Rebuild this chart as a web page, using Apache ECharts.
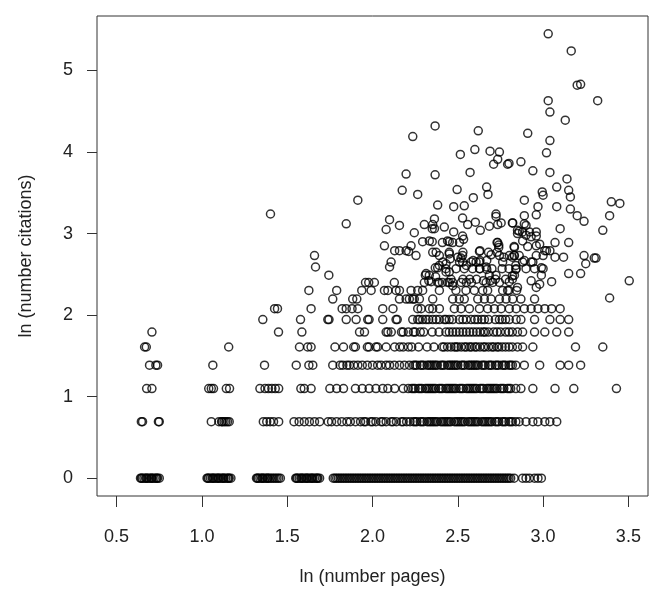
<!DOCTYPE html>
<html><head><meta charset="utf-8">
<script src="https://cdn.jsdelivr.net/npm/echarts@6/dist/echarts.min.js"></script>
<style>html,body{margin:0;padding:0;background:#fff}#c{width:652px;height:591px}</style>
</head><body><div id="c"></div>
<script>
// tick labels
const xTicks = [0.5, 1.0, 1.5, 2.0, 2.5, 3.0, 3.5];
const yTicks = [0, 1, 2, 3, 4, 5];

// discrete low levels of ln(citations): ln1 .. ln10
const rowLevels = [0, 0.693, 1.099, 1.386, 1.609, 1.792, 1.946, 2.079, 2.197, 2.303];

// x values (ln pages, jittered) of the points on each level
const row0 = [0.64,0.645,0.65,0.66,0.67,0.675,0.68,0.69,0.70,0.705,0.71,0.72,0.73,0.735,0.74,0.75,
  1.03,1.035,1.04,1.05,1.06,1.065,1.07,1.08,1.09,1.095,1.10,1.11,1.12,1.125,1.13,1.14,1.15,1.155,1.16,1.17,
  1.32,1.325,1.33,1.34,1.35,1.355,1.36,1.37,1.38,1.385,1.39,1.40,1.41,1.42,1.43,1.44,1.45,1.46,
  1.55,1.555,1.56,1.57,1.58,1.585,1.59,1.60,1.61,1.615,1.62,1.63,1.64,1.645,1.65,1.66,1.67,1.675,1.68,1.69,
  1.77,1.78,1.79,1.80,1.81,1.82,1.83,1.84,1.85,1.86,1.87,1.88,1.89,1.90,1.91,1.92,1.93,1.94,1.95,1.96,1.97,
  1.98,1.99,2.00,2.01,2.02,2.03,2.04,2.05,2.06,2.07,2.08,2.09,2.10,2.11,
  2.12,2.13,2.14,2.15,2.16,2.17,2.18,2.19,2.20,2.21,2.22,2.23,2.24,2.25,2.26,2.27,2.28,2.29,2.30,2.31,2.32,
  2.33,2.34,2.35,2.36,2.37,2.38,2.39,2.40,2.41,2.42,
  2.43,2.44,2.45,2.46,2.47,2.48,2.49,2.50,2.51,2.52,2.53,2.54,2.55,2.56,2.57,2.58,2.59,2.60,2.61,2.62,
  2.63,2.64,2.65,2.66,2.67,2.68,2.69,2.70,2.71,2.72,2.73,
  2.74,2.75,2.76,2.77,2.78,2.79,2.80,2.81,2.83,2.88,2.90,2.92,2.95,2.97,2.99];
const row1 = [0.645,0.652,0.745,0.75,
  1.055,1.10,1.115,1.12,1.13,1.14,1.15,1.16,
  1.36,1.38,1.40,1.42,1.45,
  1.54,1.57,1.60,1.63,1.66,1.69,1.74,1.76,1.79,1.82,1.85,1.87,
  1.90,1.93,1.95,1.96,1.99,2.00,2.02,2.05,2.06,2.08,2.11,2.12,2.14,2.17,2.18,2.20,2.22,
  2.24,2.25,2.26,2.28,2.29,2.30,2.32,2.33,2.34,2.35,2.36,2.37,2.38,2.40,2.41,2.42,2.43,2.44,2.45,2.46,2.48,2.49,
  2.50,2.51,2.52,2.53,2.54,2.56,2.57,2.58,2.59,2.60,2.61,2.62,
  2.64,2.65,2.66,2.67,2.68,2.69,2.70,2.72,2.73,2.74,2.76,2.77,2.78,2.80,2.81,2.82,2.84,2.86,
  2.90,2.94,2.97,3.01,3.04,3.08];
const row2 = [0.676,0.707,
  1.04,1.055,1.068,1.143,1.162,
  1.34,1.37,1.39,1.41,1.43,1.45,
  1.58,1.60,1.64,1.75,1.79,1.83,1.90,1.94,1.98,2.02,2.06,2.09,2.13,2.18,2.21,
  2.23,2.24,2.25,2.27,2.28,2.29,2.31,2.32,2.33,2.34,2.35,2.36,2.37,2.39,2.40,2.41,2.43,2.44,2.45,2.46,2.47,
  2.48,2.49,2.51,2.52,2.53,2.55,2.56,2.57,2.58,2.59,2.60,2.61,
  2.63,2.64,2.65,2.67,2.68,2.69,2.70,2.71,2.72,2.73,2.75,2.76,2.77,2.79,2.80,2.81,
  2.84,2.87,2.94,3.07,3.18,3.43];
const row3 = [0.693,0.73,0.74,
  1.064,1.367,
  1.553,1.627,1.65,1.767,1.81,1.826,1.85,1.865,1.89,1.914,1.94,1.97,2.00,2.03,2.05,2.08,2.10,2.128,2.158,2.187,2.216,
  2.24,2.25,2.26,2.28,2.29,2.30,2.32,2.33,2.34,2.35,2.36,2.37,2.38,2.40,2.41,2.42,2.44,2.45,2.46,2.47,2.48,2.49,
  2.50,2.52,2.53,2.54,2.56,2.57,2.58,2.59,2.60,2.61,2.62,
  2.64,2.65,2.66,2.68,2.69,2.70,2.72,2.73,2.74,2.76,2.77,2.78,2.80,2.81,2.82,2.84,
  2.89,2.98,3.10,3.15,3.22];
const row4 = [0.664,0.674,1.157,
  1.572,1.62,1.64,1.78,1.83,1.89,1.90,1.97,1.98,2.02,2.03,2.08,2.13,2.16,2.18,2.21,2.23,2.27,2.32,2.36,2.41,
  2.42,2.44,2.46,2.48,2.49,2.50,2.52,2.54,2.55,2.57,2.58,2.60,2.61,2.63,2.65,2.66,2.68,2.70,2.71,2.73,2.74,
  2.76,2.78,2.80,2.82,2.85,
  2.88,2.94,3.19,3.35];
const row5 = [0.707,1.449,1.586,
  1.924,1.953,2.08,2.09,2.11,2.17,2.18,2.21,2.24,2.25,2.28,2.30,2.35,2.39,2.43,
  2.45,2.47,2.49,2.51,2.53,2.55,2.57,2.59,2.61,2.63,2.65,2.66,2.68,2.71,2.73,2.75,2.78,2.80,2.82,2.85,
  2.88,2.95,3.01,3.08,3.15];
const row6 = [1.357,1.578,1.738,1.745,1.846,1.904,1.972,1.98,2.06,2.138,2.145,
  2.236,2.265,2.275,2.294,2.314,2.33,2.353,2.373,2.392,2.421,2.431,2.45,2.47,2.509,2.53,2.55,2.578,2.60,
  2.617,2.64,2.656,2.68,2.72,2.744,2.76,2.78,2.802,2.842,
  2.87,2.95,3.04,3.10,3.15];
const row7 = [1.426,1.443,1.64,1.822,1.846,1.88,1.914,2.06,2.12,
  2.265,2.285,2.333,2.353,2.392,
  2.48,2.519,2.568,2.627,2.675,2.714,2.754,2.802,2.842,
  2.89,2.93,2.97,3.01,3.05,3.10];
const row8 = [1.767,1.884,1.908,2.158,2.197,2.216,2.236,2.245,2.275,2.353,
  2.47,2.509,2.538,2.617,2.656,2.695,2.744,2.783,2.822,2.87,2.95];
const row9 = [1.627,1.79,1.937,1.992,2.07,2.09,2.138,2.158,2.226,2.265,2.294,
  2.392,2.489,2.548,2.597,2.646,2.675,2.763,2.792,2.80,2.845];

// scattered points above the discrete levels: [ln pages, ln citations]
const upperPoints = [
  [1.402,3.24],[1.66,2.73],[1.666,2.59],[1.744,2.49],
  [1.846,3.12],[1.914,3.41],[1.959,2.40],[1.978,2.40],[2.011,2.40],
  [2.07,2.85],[2.08,3.05],[2.10,3.17],[2.10,2.59],[2.109,2.65],[2.128,2.40],[2.13,2.79],[2.158,2.79],[2.158,3.10],
  [2.174,3.53],[2.197,3.73],[2.197,2.79],
  [2.236,4.19],[2.367,4.32],[2.62,4.26],[2.515,3.97],[2.60,4.03],[2.689,4.01],[2.744,4.00],
  [2.734,3.91],[2.71,3.85],[2.792,3.85],[2.80,3.86],[2.367,3.72],[2.572,3.75],[2.265,3.48],[2.496,3.54],
  [2.669,3.57],[2.677,3.48],[2.591,3.44],[2.382,3.35],[2.476,3.33],[2.538,3.34],[2.724,3.24],[2.724,3.21],
  [2.363,3.18],[2.353,3.11],[2.363,3.06],[2.528,3.19],[2.304,3.11],[2.35,3.06],[2.421,3.08],[2.558,3.11],
  [2.603,3.14],[2.685,3.09],[2.734,3.11],[2.754,3.13],[2.822,3.13],[2.632,3.04],[2.245,3.01],[2.476,3.02],
  [2.528,2.97],[2.534,2.93],[2.85,3.00],[2.294,2.90],[2.333,2.91],[2.35,2.90],[2.44,2.91],[2.45,2.90],
  [2.226,2.85],[2.212,2.78],[2.255,2.73],[2.353,2.77],[2.373,2.77],[2.392,2.73],[2.45,2.77],[2.455,2.69],
  [2.528,2.73],[2.519,2.70],[2.627,2.78],[2.734,2.89],[2.74,2.86],[2.695,2.74],[2.744,2.73],[2.832,2.83],
  [2.802,2.73],[2.832,2.73],[2.412,2.65],[2.431,2.63],[2.368,2.58],[2.382,2.58],[2.392,2.61],[2.314,2.51],
  [2.333,2.49],[2.304,2.40],[2.344,2.41],[2.382,2.40],[2.431,2.53],[2.45,2.53],[2.46,2.44],[2.44,2.40],
  [2.47,2.40],[2.52,2.40],[2.55,2.40],[2.58,2.40],[2.528,2.65],[2.578,2.65],[2.607,2.65],[2.627,2.65],
  [2.538,2.57],[2.587,2.57],[2.627,2.57],[2.666,2.59],[2.685,2.49],[2.724,2.49],[2.666,2.40],[2.705,2.40],
  [2.744,2.40],[2.763,2.65],[2.842,2.57],[2.832,2.49],[2.802,2.41],
  [2.31,2.49],[2.33,2.42],[2.37,2.47],[2.39,2.40],
  [3.03,5.45],[3.165,5.24],[3.20,4.82],[3.22,4.83],[3.03,4.63],[3.32,4.63],[3.04,4.49],[3.13,4.39],
  [2.91,4.23],[3.04,4.14],[3.02,3.99],[2.87,3.88],[2.94,3.77],[3.04,3.75],[3.14,3.67],[3.08,3.57],
  [3.15,3.53],[3.16,3.45],[2.995,3.51],[3.00,3.47],[2.89,3.41],[2.97,3.33],[3.08,3.33],[3.16,3.30],
  [3.40,3.39],[3.45,3.37],[3.20,3.22],[2.89,3.22],[2.96,3.23],[3.39,3.22],
  [3.24,3.15],[3.35,3.04],[2.82,3.13],[2.89,3.12],[2.86,3.03],[2.90,2.98],[2.96,3.02],[3.10,3.06],
  [2.93,2.96],[2.88,2.91],[2.83,2.84],[2.91,2.84],[2.96,2.85],[3.07,2.89],[3.15,2.89],[3.01,2.79],
  [3.04,2.79],[3.00,2.73],[3.07,2.71],[3.12,2.71],[3.24,2.73],[3.30,2.70],[3.31,2.70],[2.82,2.71],
  [2.88,2.65],[2.94,2.65],[3.25,2.63],[2.99,2.58],[2.99,2.49],[2.84,2.56],[2.82,2.48],[2.93,2.42],
  [3.05,2.41],[3.15,2.51],[3.22,2.51],[3.505,2.42],[3.39,2.21],
  [2.85,3.04],[2.88,3.02],[2.90,3.10],[2.92,3.02],[2.96,2.97],[2.98,2.87],[3.02,2.79],[2.41,2.89],
  [2.47,2.89],[2.51,2.89],[2.63,2.79],[2.68,2.77],[2.73,2.89],[2.74,2.83],[2.73,2.77],[2.77,2.71],
  [2.83,2.73],[2.86,2.73],[2.89,2.67],[2.93,2.65],[2.96,2.73],[2.45,2.75],[2.50,2.71],[2.53,2.77],
  [2.59,2.67],[2.63,2.67],[2.67,2.67],[2.43,2.57],[2.49,2.57],[2.51,2.65],[2.55,2.61],[2.63,2.57],
  [2.67,2.56],[2.70,2.57],[2.76,2.57],[2.80,2.57],[2.84,2.61],[2.90,2.57],[2.95,2.57],[3.00,2.57],
  [2.53,2.44],[2.57,2.44],[2.61,2.44],[2.65,2.42],[2.69,2.42],[2.72,2.44],[2.78,2.44],[2.82,2.44],
  [2.85,2.34],[2.96,2.34],[2.98,2.38],[2.41,2.40],[2.45,2.40],[2.47,2.36]
];

const rows = [row0, row1, row2, row3, row4, row5, row6, row7, row8, row9];
const points = [];
rows.forEach((xs, i) => xs.forEach(x => points.push([x, rowLevels[i]])));
upperPoints.forEach(p => points.push(p));

const font = 'Liberation Sans, Arial, Helvetica, sans-serif';
const textColor = '#222';
const chart = echarts.init(document.getElementById('c'), null, {renderer: 'canvas'});
chart.setOption({
  animation: false,
  backgroundColor: '#fff',
  grid: {left: 97, right: 4, top: 16, bottom: 93, show: true, borderColor: '#333', borderWidth: 1, backgroundColor: 'transparent'},
  xAxis: {
    type: 'value', min: 0.385, max: 3.615,
    splitLine: {show: false},
    axisLine: {show: false, onZero: false},
    axisTick: {show: true, inside: false, length: 11, lineStyle: {color: '#333'}, customValues: xTicks},
    axisLabel: {margin: 32, fontSize: 18, color: textColor, fontFamily: font, customValues: xTicks,
      formatter: v => v.toFixed(1)},
    name: 'ln (number pages)', nameLocation: 'middle', nameGap: 72,
    nameTextStyle: {fontSize: 18, color: textColor, fontFamily: font}
  },
  yAxis: {
    type: 'value', min: -0.218, max: 5.668,
    splitLine: {show: false},
    axisLine: {show: false, onZero: false},
    axisTick: {show: true, inside: false, length: 10, lineStyle: {color: '#333'}, customValues: yTicks},
    axisLabel: {margin: 24, fontSize: 18, color: textColor, fontFamily: font, customValues: yTicks,
      formatter: v => String(v)},
    name: 'ln (number citations)', nameLocation: 'middle', nameGap: 62, nameRotate: 90,
    nameTextStyle: {fontSize: 18, color: textColor, fontFamily: font}
  },
  series: [{
    type: 'scatter', data: points, symbol: 'circle', symbolSize: 8,
    itemStyle: {color: 'rgba(0,0,0,0)', borderColor: '#000', borderWidth: 1.5},
    emphasis: {disabled: true}
  }]
});
</script></body></html>
